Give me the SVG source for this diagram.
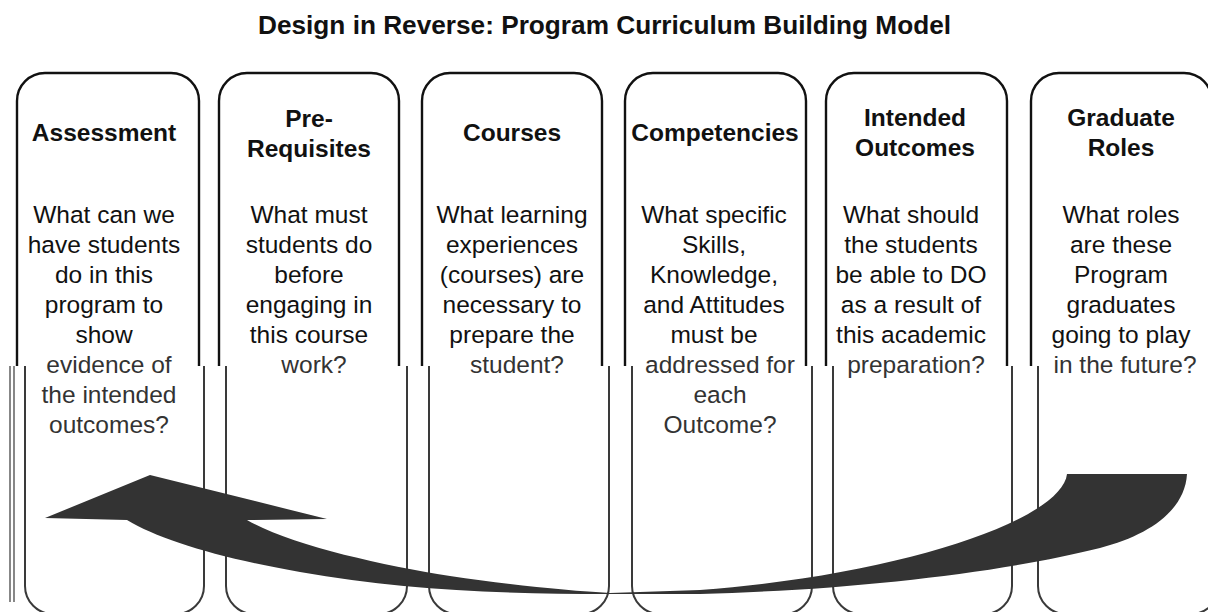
<svg xmlns="http://www.w3.org/2000/svg" width="1208" height="612" viewBox="0 0 1208 612">
<style>
  .frame-up { fill: none; stroke: #111; stroke-width: 2.4; }
  .frame-lo { fill: none; stroke: #3a3a3a; stroke-width: 2; }
  .title { font-family: "Liberation Sans", Arial, sans-serif; font-weight: bold; font-size: 25.5px; fill: #111; text-anchor: middle; }
  .head { font-family: "Liberation Sans", Arial, sans-serif; font-weight: bold; font-size: 24.5px; fill: #111; text-anchor: middle; }
  .body { font-family: "Liberation Sans", Arial, sans-serif; font-size: 24.5px; fill: #111; text-anchor: middle; }
  .body-lo { font-family: "Liberation Sans", Arial, sans-serif; font-size: 24.5px; fill: #333; text-anchor: middle; }
  .arrow { fill: #333; stroke: none; }
  .edge { stroke: #555; stroke-width: 1.4; fill: none; }
</style>
<rect x="0" y="0" width="1208" height="612" fill="#fff"/>
<text class="title" x="604.5" y="34" textLength="693" lengthAdjust="spacingAndGlyphs">Design in Reverse: Program Curriculum Building Model</text>

<g id="edge-lines">
  <line class="edge" x1="10" y1="366" x2="10" y2="602"/>
  <line class="edge" x1="14" y1="366" x2="14" y2="602"/>
</g>

<g id="box-assessment">
  <path class="frame-up" d="M17,366 V101 A28,28 0 0 1 45,73 H171 A28,28 0 0 1 199,101 V366"/>
  <path class="frame-lo" d="M25,366 V586 A28,28 0 0 0 53,614 H176 A28,28 0 0 0 204,586 V366"/>
  <text class="head" x="104" y="141">Assessment</text>
  <text class="body" x="104" y="223">What can we</text>
  <text class="body" x="104" y="253">have students</text>
  <text class="body" x="104" y="283">do in this</text>
  <text class="body" x="104" y="313">program to</text>
  <text class="body" x="104" y="343">show</text>
  <text class="body-lo" x="109" y="373">evidence of</text>
  <text class="body-lo" x="109" y="403">the intended</text>
  <text class="body-lo" x="109" y="433">outcomes?</text>
</g>

<g id="box-prerequisites">
  <path class="frame-up" d="M219,366 V101 A28,28 0 0 1 247,73 H371 A28,28 0 0 1 399,101 V366"/>
  <path class="frame-lo" d="M226,366 V586 A28,28 0 0 0 254,614 H379 A28,28 0 0 0 407,586 V366"/>
  <text class="head" x="309" y="127">Pre-</text>
  <text class="head" x="309" y="157">Requisites</text>
  <text class="body" x="309" y="223">What must</text>
  <text class="body" x="309" y="253">students do</text>
  <text class="body" x="309" y="283">before</text>
  <text class="body" x="309" y="313">engaging in</text>
  <text class="body" x="309" y="343">this course</text>
  <text class="body-lo" x="314" y="373">work?</text>
</g>

<g id="box-courses">
  <path class="frame-up" d="M422,366 V101 A28,28 0 0 1 450,73 H574 A28,28 0 0 1 602,101 V366"/>
  <path class="frame-lo" d="M429,366 V586 A28,28 0 0 0 457,614 H581 A28,28 0 0 0 609,586 V366"/>
  <text class="head" x="512" y="141">Courses</text>
  <text class="body" x="512" y="223">What learning</text>
  <text class="body" x="512" y="253">experiences</text>
  <text class="body" x="512" y="283">(courses) are</text>
  <text class="body" x="512" y="313">necessary to</text>
  <text class="body" x="512" y="343">prepare the</text>
  <text class="body-lo" x="517" y="373">student?</text>
</g>

<g id="box-competencies">
  <path class="frame-up" d="M625,366 V101 A28,28 0 0 1 653,73 H778 A28,28 0 0 1 806,101 V366"/>
  <path class="frame-lo" d="M632,366 V586 A28,28 0 0 0 660,614 H784 A28,28 0 0 0 812,586 V366"/>
  <text class="head" x="715" y="141">Competencies</text>
  <text class="body" x="714" y="223">What specific</text>
  <text class="body" x="714" y="253">Skills,</text>
  <text class="body" x="714" y="283">Knowledge,</text>
  <text class="body" x="714" y="313">and Attitudes</text>
  <text class="body" x="714" y="343">must be</text>
  <text class="body-lo" x="720" y="373">addressed for</text>
  <text class="body-lo" x="720" y="403">each</text>
  <text class="body-lo" x="720" y="433">Outcome?</text>
</g>

<g id="box-outcomes">
  <path class="frame-up" d="M826,366 V101 A28,28 0 0 1 854,73 H979 A28,28 0 0 1 1007,101 V366"/>
  <path class="frame-lo" d="M833,366 V586 A28,28 0 0 0 861,614 H984 A28,28 0 0 0 1012,586 V366"/>
  <text class="head" x="915" y="126">Intended</text>
  <text class="head" x="915" y="156">Outcomes</text>
  <text class="body" x="911" y="223">What should</text>
  <text class="body" x="911" y="253">the students</text>
  <text class="body" x="911" y="283">be able to DO</text>
  <text class="body" x="911" y="313">as a result of</text>
  <text class="body" x="911" y="343">this academic</text>
  <text class="body-lo" x="916" y="373">preparation?</text>
</g>

<g id="box-roles">
  <path class="frame-up" d="M1031,366 V101 A28,28 0 0 1 1059,73 H1184 A28,28 0 0 1 1212,101 V366"/>
  <path class="frame-lo" d="M1038,366 V586 A28,28 0 0 0 1066,614 H1191 A28,28 0 0 0 1219,586 V366"/>
  <text class="head" x="1121" y="126">Graduate</text>
  <text class="head" x="1121" y="156">Roles</text>
  <text class="body" x="1121" y="223">What roles</text>
  <text class="body" x="1121" y="253">are these</text>
  <text class="body" x="1121" y="283">Program</text>
  <text class="body" x="1121" y="313">graduates</text>
  <text class="body" x="1121" y="343">going to play</text>
  <text class="body-lo" x="1125" y="373">in the future?</text>
</g>

<g id="connectors">
  <path id="reverse-arrow" class="arrow" d="M45,518 L150,475 L327,519 L247,520 C290,545 380,565 450,576 C510,585 570,591 610,593 L700,590 C900,575 1062,520 1067,474 L1187,474 C1185,510 1150,535 1100,548 C1000,573 850,590 700,594 L610,594 C500,594 400,590 300,572 C220,558 160,540 127,520 Z"/>
</g>
</svg>
